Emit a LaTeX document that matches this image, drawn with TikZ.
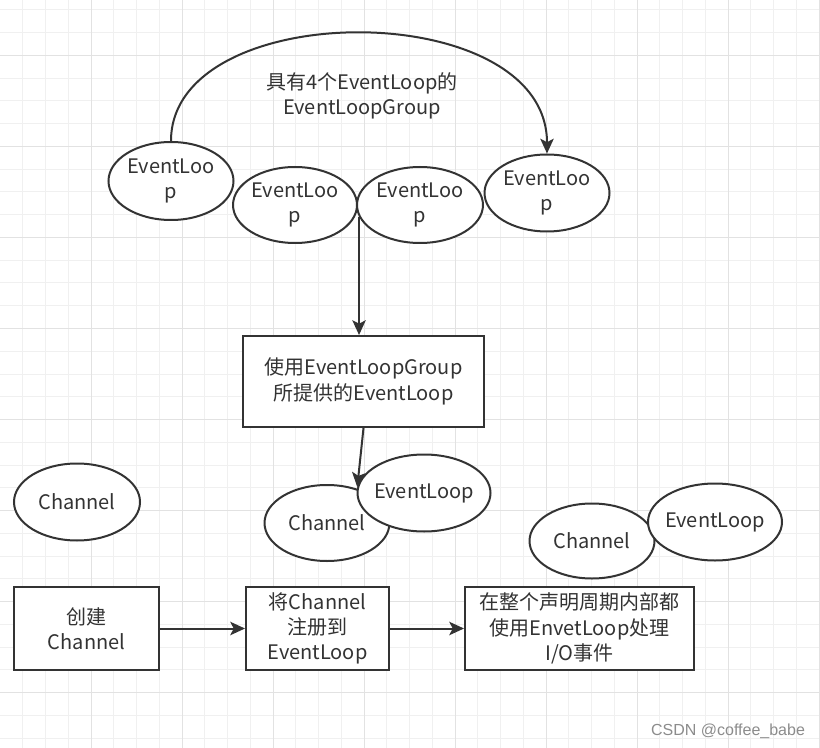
\documentclass[tikz,border=0pt]{standalone}
\usepackage{fontspec}
\setmainfont{Noto Sans CJK SC}
\newfontfamily\wmfont{Liberation Sans}
\usepackage{tikz}
\usepackage{xcolor}
\usetikzlibrary{shapes.geometric,arrows.meta}
\definecolor{ink}{RGB}{51,51,51}
\definecolor{gridminor}{RGB}{240,240,240}
\definecolor{gridmajor}{RGB}{226,226,226}
\definecolor{wmgray}{RGB}{140,140,140}

\begin{document}
\begin{tikzpicture}[x=0.75pt,y=-0.75pt,
    every node/.style={text=ink,font=\fontsize{15pt}{19pt}\selectfont},
    oval/.style 2 args={ellipse,draw=ink,line width=1.5pt,fill=white,inner xsep=-6pt,inner ysep=0pt,align=center,minimum width=#1*0.75pt,minimum height=#2*0.75pt},
    blk/.style 2 args={rectangle,draw=ink,line width=1.5pt,fill=white,inner sep=0pt,align=center,minimum width=#1*0.75pt,minimum height=#2*0.75pt},
    flow/.style={draw=ink,line width=1.5pt,-{Stealth[length=11pt,width=10pt,inset=2.5pt]}}]
      \fill [white] (0,0) rectangle (820,748);
      \useasboundingbox (0,0) rectangle (820,748);
      \foreach \k in {1,...,36} \draw [gridminor,line width=0.75pt] (\k*22.75,0) -- (\k*22.75,748);
      \foreach \k in {0,...,32} \draw [gridminor,line width=0.75pt] (0,10+\k*22.75) -- (820,10+\k*22.75);
      \foreach \k in {4,8,...,36} \draw [gridmajor,line width=0.75pt] (\k*22.75,0) -- (\k*22.75,748);
      \foreach \k in {2,6,...,30} \draw [gridmajor,line width=0.75pt] (0,10+\k*22.75) -- (820,10+\k*22.75);
      \node [oval={125}{78}] (L1) at (171,181) {EventLoo\\p};
      \node [oval={124}{76}] (L2) at (295,205) {EventLoo\\p};
      \node [oval={126}{76}] (L3) at (420,205) {EventLoo\\p};
      \node [oval={125}{77}] (L4) at (547,193) {EventLoo\\p};
      \node [align=center] (T) at (362,96) {具有4个EventLoop的\\EventLoopGroup};
      \node [blk={241}{91}] (G) at (363.5,381.5) {使用EventLoopGroup\\所提供的EventLoop};
      \node [oval={126}{77}] (C0) at (77,502) {Channel};
      \node [oval={125}{76}] (C1) at (327,523) {Channel};
      \node [oval={133}{77}] (E1) at (424,493) {EventLoop};
      \node [oval={125}{75}] (C2) at (592,541) {Channel};
      \node [oval={134}{77}] (E2) at (715,522) {EventLoop};
      \node [blk={145}{83}] (B1) at (86.5,628.5) {创建\\Channel};
      \node [blk={143}{83}] (B2) at (317.5,628.5) {将Channel\\注册到\\EventLoop};
      \node [blk={229}{83}] (B3) at (579.5,628.5) {在整个声明周期内部都\\使用EnvetLoop处理\\I/O事件};
      \draw [flow] (L1.north) .. controls +(0,-145) and +(0,-158) .. (L4.north);
      \draw [flow] (L3.191) -- (L3.191 |- G.north);
      \draw [flow] (G.south) -- (E1.175);
      \draw [flow] (B1) -- (B2);
      \draw [flow] (B2) -- (B3);
      \node [text=wmgray,font=\wmfont\fontsize{12pt}{14pt}\selectfont] (W) at (728,731) {CSDN @coffee\_babe};
    \end{tikzpicture}
\end{document}
